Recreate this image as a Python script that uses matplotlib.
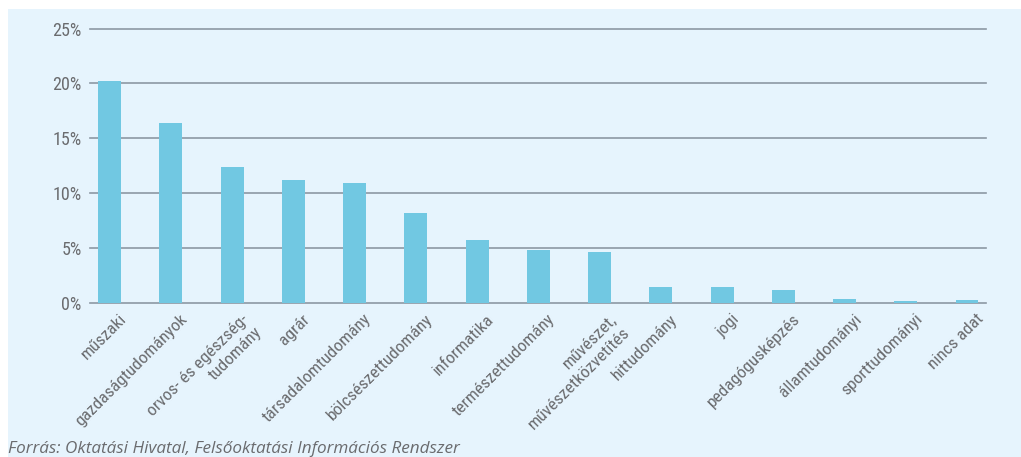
import matplotlib
matplotlib.use("Agg")
import matplotlib.pyplot as plt
import matplotlib.transforms as mtransforms
from matplotlib.patches import Rectangle
from matplotlib.ticker import FuncFormatter

# adatok
kategoriak = ["műszaki", "gazdaságtudományok", "orvos- és egészség-\ntudomány", "agrár",
              "társadalomtudomány", "bölcsészettudomány", "informatika",
              "természettudomány", "művészet,\nművészetközvetítés", "hittudomány",
              "jogi", "pedagógusképzés", "államtudományi", "sporttudományi", "nincs adat"]
ertekek = [20.2, 16.4, 12.4, 11.15, 10.9, 8.15, 5.7, 4.75, 4.65, 1.4, 1.4, 1.15, 0.3, 0.15, 0.25]
y_tickek = [0, 5, 10, 15, 20, 25]

BAR = "#71C8E2"
BG = "#E6F4FD"
GRID = "#8C98A3"
TXT = "#6A6B6E"
narrow = ["Roboto Condensed", "Roboto", "DejaVu Sans"]

W, H = 1021, 457
fig = plt.figure(figsize=(W / 100, H / 100), dpi=100)
fig.patches.append(Rectangle((8 / W, 0), 1 - 8 / W, 1 - 9 / H, transform=fig.transFigure,
                             facecolor=BG, edgecolor="none", zorder=-10))

ax = fig.add_axes([90 / W, (H - 302.5) / H, 896 / W, 274 / H])
ax.set_facecolor("none")
x = list(range(len(kategoriak)))
ax.bar(x, ertekek, width=0.375, color=BAR, zorder=3)

ax.set_ylim(0, 25)
ax.set_xlim(-0.32, len(kategoriak) - 1 + 0.31)
ax.set_yticks(y_tickek)
ax.yaxis.set_major_formatter(FuncFormatter(lambda v, p: f"{int(v)}%"))
ax.yaxis.grid(True, color=GRID, linewidth=1.2)
for gl in ax.get_ygridlines():
    gl.set_clip_on(False)
ax.set_axisbelow(True)
for s in ax.spines.values():
    s.set_visible(False)
ax.tick_params(axis="both", length=0, colors=TXT)
ax.tick_params(axis="y", pad=6)
for lbl in ax.get_yticklabels():
    lbl.set_family(narrow)
    lbl.set_fontsize(13)

# x feliratok kézzel, hogy a helyük állítható legyen
ax.set_xticks(x)
ax.set_xticklabels([])
eltol = mtransforms.ScaledTranslation(9 / 100, -9 / 100, fig.dpi_scale_trans)
for xi, nev in zip(x, kategoriak):
    ax.text(xi, 0, nev, transform=ax.get_xaxis_transform() + eltol,
            rotation=45, ha="right", va="top", rotation_mode="anchor",
            multialignment="right", fontsize=12.5, family=narrow, color=TXT,
            linespacing=1.3)

fig.text(8 / W, 1 - 449 / H, "Forrás: Oktatási Hivatal, Felsőoktatási Információs Rendszer",
         fontsize=12.3, style="italic", family=["Open Sans", "DejaVu Sans"], color=TXT,
         va="center", ha="left")

fig.savefig("out.png", dpi=100, facecolor="white")
